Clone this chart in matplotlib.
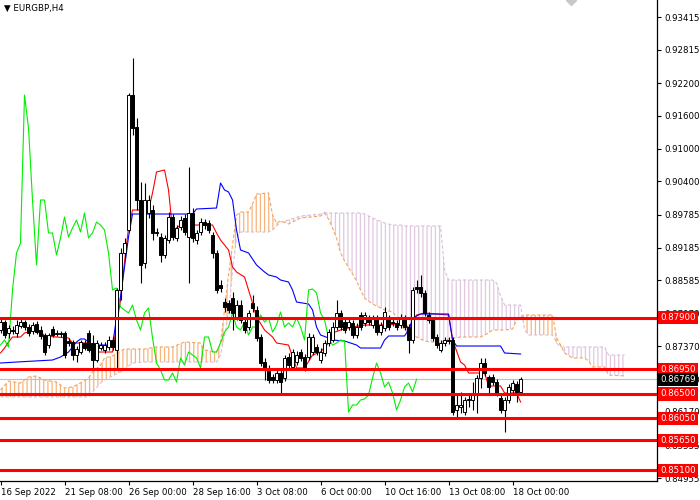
import matplotlib
matplotlib.use('Agg')
import matplotlib.pyplot as plt
import matplotlib.transforms as mtransforms
import numpy as np

plt.rcParams['font.family'] = ['DejaVu Sans']
plt.rcParams['hatch.linewidth'] = 0.9

# EURGBP H4 candles, bar 0 = 16 Sep 2022 16:00
opens = [
    0.87672, 0.87818, 0.87617, 0.87672, 0.87617, 0.87745, 0.87818, 0.87727, 0.87653, 0.87782,
    0.87672, 0.87580, 0.87397, 0.87690, 0.87598, 0.87617, 0.87617, 0.87470, 0.87451, 0.87213,
    0.87268, 0.87433, 0.87617, 0.87433, 0.87121, 0.87341, 0.87305, 0.87360, 0.87488, 0.87305,
    0.88406, 0.89085, 0.89507, 0.91984, 0.91397, 0.90057, 0.88901, 0.89819, 0.89874, 0.89470,
    0.89378, 0.89048, 0.89323, 0.89745, 0.89360, 0.89562, 0.89727, 0.89378, 0.89819, 0.89323,
    0.89470, 0.89653, 0.89635, 0.89415, 0.89085, 0.88497, 0.88185, 0.88167, 0.88259, 0.87910,
    0.88130, 0.87818, 0.87727, 0.88167, 0.88039, 0.87543, 0.87084, 0.86975, 0.86809, 0.86754,
    0.86883, 0.86791, 0.87176, 0.86993, 0.87084, 0.87268, 0.87176, 0.87176, 0.87268, 0.87360,
    0.87121, 0.87250, 0.87433, 0.87488, 0.87727, 0.87984, 0.87818, 0.87727, 0.87800, 0.87580,
    0.87947, 0.87800, 0.87892, 0.87763, 0.87892, 0.87635, 0.87708, 0.87892, 0.87818, 0.87800,
    0.87763, 0.87892, 0.87727, 0.87488, 0.88461, 0.88461, 0.88351, 0.87947, 0.87855, 0.87543,
    0.87305, 0.87433, 0.87488, 0.87488, 0.86204, 0.86259, 0.86167, 0.86387, 0.86387, 0.86479,
    0.86791, 0.87066, 0.86809, 0.86809, 0.86717, 0.86424, 0.86204, 0.86387, 0.86571, 0.86681,
    0.86534]
highs = [
    0.87892, 0.87855, 0.87763, 0.87745, 0.87855, 0.87892, 0.87855, 0.87782, 0.87818, 0.87837,
    0.87745, 0.87617, 0.87617, 0.87745, 0.87672, 0.87653, 0.87653, 0.87525, 0.87488, 0.87378,
    0.87488, 0.87488, 0.87672, 0.87580, 0.87488, 0.87451, 0.87451, 0.87562, 0.87543, 0.88442,
    0.89177, 0.89360, 0.92020, 0.92663, 0.91562, 0.90387, 0.90369, 0.90149, 0.89965, 0.89543,
    0.89452, 0.89415, 0.89837, 0.89800, 0.89598, 0.89763, 0.89800, 0.90663, 0.89910, 0.89507,
    0.89727, 0.89708, 0.89690, 0.89470, 0.89140, 0.88589, 0.88259, 0.88222, 0.88369, 0.88222,
    0.88222, 0.87892, 0.88039, 0.88314, 0.88112, 0.87598, 0.87158, 0.87029, 0.86864, 0.86938,
    0.86938, 0.87213, 0.87250, 0.87323, 0.87286, 0.87323, 0.87231, 0.87617, 0.87598, 0.87415,
    0.87341, 0.87488, 0.87690, 0.87818, 0.88222, 0.88039, 0.87892, 0.87892, 0.87855, 0.87800,
    0.88002, 0.88002, 0.87947, 0.87947, 0.87947, 0.87818, 0.88094, 0.87947, 0.87874, 0.87855,
    0.87965, 0.87947, 0.87782, 0.88461, 0.88589, 0.88681, 0.88406, 0.88002, 0.87910, 0.87598,
    0.87488, 0.87543, 0.87543, 0.87543, 0.86516, 0.86534, 0.86442, 0.86516, 0.86717, 0.86846,
    0.87158, 0.87158, 0.86846, 0.86864, 0.86772, 0.86479, 0.86442, 0.86681, 0.86754, 0.86736,
    0.86809]
lows = [
    0.87617, 0.87525, 0.87525, 0.87598, 0.87543, 0.87708, 0.87672, 0.87562, 0.87598, 0.87598,
    0.87507, 0.87213, 0.87341, 0.87543, 0.87562, 0.87543, 0.87158, 0.87378, 0.87121, 0.87084,
    0.87231, 0.87305, 0.87268, 0.86938, 0.87084, 0.87305, 0.87250, 0.87305, 0.87305, 0.86975,
    0.88222, 0.88993, 0.89470, 0.91250, 0.89874, 0.88534, 0.88810, 0.89727, 0.89323, 0.89397,
    0.88919, 0.88993, 0.89268, 0.89323, 0.89305, 0.89507, 0.89415, 0.88534, 0.89287, 0.89250,
    0.89415, 0.89525, 0.89452, 0.88993, 0.88351, 0.88369, 0.88002, 0.87984, 0.87672, 0.87855,
    0.87800, 0.87617, 0.87672, 0.88002, 0.87470, 0.87011, 0.86754, 0.86699, 0.86699, 0.86699,
    0.86516, 0.86736, 0.86975, 0.86938, 0.87029, 0.87103, 0.86920, 0.87121, 0.87213, 0.87213,
    0.87066, 0.87195, 0.87378, 0.87451, 0.87672, 0.87672, 0.87617, 0.87672, 0.87525, 0.87525,
    0.87672, 0.87745, 0.87763, 0.87708, 0.87580, 0.87580, 0.87653, 0.87672, 0.87745, 0.87672,
    0.87708, 0.87672, 0.87250, 0.87433, 0.88351, 0.88277, 0.87929, 0.87800, 0.87470, 0.87341,
    0.87268, 0.87378, 0.87415, 0.86112, 0.86075, 0.86148, 0.86112, 0.86259, 0.86204, 0.86148,
    0.86607, 0.86828, 0.86479, 0.86662, 0.86461, 0.86148, 0.85800, 0.86332, 0.86516, 0.86351,
    0.86479]
closes = [
    0.87818, 0.87580, 0.87708, 0.87653, 0.87763, 0.87818, 0.87727, 0.87617, 0.87763, 0.87635,
    0.87562, 0.87268, 0.87580, 0.87580, 0.87617, 0.87598, 0.87213, 0.87433, 0.87213, 0.87323,
    0.87451, 0.87341, 0.87305, 0.87121, 0.87433, 0.87396, 0.87396, 0.87488, 0.87360, 0.88406,
    0.89085, 0.89268, 0.91984, 0.91378, 0.90057, 0.88865, 0.90057, 0.90057, 0.89452, 0.89452,
    0.89048, 0.89360, 0.89745, 0.89378, 0.89543, 0.89690, 0.89470, 0.89819, 0.89360, 0.89452,
    0.89653, 0.89598, 0.89507, 0.89085, 0.88406, 0.88442, 0.88093, 0.88039, 0.87984, 0.88130,
    0.87855, 0.87672, 0.87984, 0.88075, 0.87525, 0.87066, 0.86938, 0.86754, 0.86754, 0.86883,
    0.86717, 0.87158, 0.87029, 0.87268, 0.87213, 0.87158, 0.86975, 0.87543, 0.87543, 0.87268,
    0.87268, 0.87433, 0.87635, 0.87727, 0.87984, 0.87727, 0.87672, 0.87818, 0.87580, 0.87727,
    0.87727, 0.87947, 0.87818, 0.87892, 0.87635, 0.87763, 0.88002, 0.87727, 0.87800, 0.87727,
    0.87892, 0.87727, 0.87488, 0.88406, 0.88424, 0.88351, 0.87984, 0.87855, 0.87525, 0.87396,
    0.87433, 0.87488, 0.87470, 0.86167, 0.86296, 0.86296, 0.86387, 0.86406, 0.86479, 0.86791,
    0.87066, 0.86883, 0.86626, 0.86717, 0.86516, 0.86204, 0.86387, 0.86626, 0.86699, 0.86534,
    0.86769]

# Ichimoku lines (bar index, price)
tenkan_bars = [0, 1, 2, 3, 5, 6, 8, 10, 11, 14,
               17, 18, 22, 23, 24, 28, 29, 30, 31, 32,
               33, 37, 38, 39, 41, 42, 43, 44, 45, 53,
               54, 55, 57, 58, 59, 61, 62, 63, 64, 66,
               68, 69, 72, 73, 74, 76, 78, 80, 82, 83,
               85, 88, 91, 97, 101, 102, 103, 104, 106, 112,
               113, 115, 116, 117, 121, 122, 125, 126, 129, 130]
tenkan = [0.87250, 0.87341, 0.87451, 0.87543, 0.87543, 0.87617, 0.87653, 0.87653, 0.87562, 0.87543,
          0.87525, 0.87433, 0.87433, 0.87341, 0.87268, 0.87268, 0.87763, 0.88222, 0.88919, 0.89543,
          0.89874, 0.89874, 0.90186, 0.90571, 0.90608, 0.90241, 0.89507, 0.89543, 0.89598, 0.89598,
          0.89452, 0.89323, 0.89140, 0.88828, 0.88736, 0.88644, 0.88406, 0.88167, 0.87910, 0.87672,
          0.87543, 0.87433, 0.87396, 0.87176, 0.86975, 0.86975, 0.87213, 0.87268, 0.87433, 0.87617,
          0.87672, 0.87727, 0.87763, 0.87763, 0.87800, 0.87708, 0.87818, 0.87947, 0.87984, 0.87947,
          0.87488, 0.87084, 0.87029, 0.86883, 0.86883, 0.86644, 0.86644, 0.86516, 0.86516, 0.86351]

kijun_bars = [0, 4, 13, 15, 17, 18, 19, 20, 21, 23,
              28, 29, 30, 31, 32, 33, 48, 49, 54, 55,
              56, 57, 58, 59, 60, 62, 64, 66, 67, 69,
              70, 72, 73, 74, 77, 78, 79, 80, 82, 83,
              86, 89, 90, 95, 96, 97, 101, 102, 103, 104,
              105, 112, 113, 114, 125, 126, 130]
kijun = [0.87066, 0.87084, 0.87121, 0.87176, 0.87268, 0.87360, 0.87451, 0.87507, 0.87507, 0.87396,
         0.87396, 0.87892, 0.88277, 0.88828, 0.89378, 0.89800, 0.89800, 0.89892, 0.89910, 0.90369,
         0.90241, 0.90204, 0.90057, 0.89507, 0.89140, 0.89085, 0.88864, 0.88736, 0.88681, 0.88644,
         0.88589, 0.88552, 0.88406, 0.88185, 0.88149, 0.88039, 0.87727, 0.87580, 0.87525, 0.87488,
         0.87470, 0.87396, 0.87341, 0.87341, 0.87488, 0.87562, 0.87562, 0.87672, 0.87855, 0.87929,
         0.87965, 0.87965, 0.87488, 0.87378, 0.87378, 0.87250, 0.87231]

cloud_bars = [0, 2, 5, 7, 9, 11, 14, 16, 18, 20,
              22, 23, 25, 26, 28, 30, 31, 33, 36, 39,
              43, 46, 50, 51, 54, 55, 56, 57, 58, 59,
              60, 62, 63, 64, 67, 68, 69, 70, 72, 75,
              80, 81, 82, 83, 84, 85, 86, 88, 89, 90,
              91, 93, 96, 98, 99, 100, 101, 102, 104, 106,
              110, 111, 112, 115, 120, 122, 123, 124, 125, 126,
              128, 129, 130, 131, 132, 138, 139, 140, 141, 143,
              146, 147, 148, 151, 152, 156]
span_a = [0.86571, 0.86736, 0.86699, 0.86809, 0.86828, 0.86754, 0.86717, 0.86607, 0.86626, 0.86699,
          0.86791, 0.86901, 0.87029, 0.87158, 0.87195, 0.87286, 0.87323, 0.87323, 0.87323, 0.87360,
          0.87360, 0.87451, 0.87433, 0.87305, 0.87268, 0.87433, 0.88039, 0.88681, 0.89231, 0.89782,
          0.89837, 0.89837, 0.89984, 0.90167, 0.90186, 0.89782, 0.89635, 0.89672, 0.89617, 0.89727,
          0.89763, 0.89818, 0.89708, 0.89543, 0.89360, 0.89085, 0.88938, 0.88699, 0.88571, 0.88406,
          0.88259, 0.88149, 0.88039, 0.88002, 0.87910, 0.87782, 0.87672, 0.87617, 0.87543, 0.87470,
          0.87433, 0.87470, 0.87507, 0.87543, 0.87543, 0.87617, 0.87672, 0.87672, 0.87672, 0.87672,
          0.87690, 0.87855, 0.87910, 0.87947, 0.87947, 0.87947, 0.87525, 0.87396, 0.87250, 0.87158,
          0.87158, 0.87103, 0.86993, 0.86993, 0.86846, 0.86828]
span_b = [0.86443, 0.86443, 0.86443, 0.86443, 0.86443, 0.86443, 0.86443, 0.86443, 0.86443, 0.86443,
          0.86443, 0.86534, 0.86699, 0.86754, 0.86828, 0.86901, 0.86956, 0.87066, 0.87084, 0.87084,
          0.87084, 0.87084, 0.87084, 0.87084, 0.87084, 0.87213, 0.87580, 0.87947, 0.88773, 0.89360,
          0.89470, 0.89470, 0.89470, 0.89470, 0.89470, 0.89507, 0.89580, 0.89653, 0.89690, 0.89763,
          0.89800, 0.89830, 0.89818, 0.89818, 0.89818, 0.89818, 0.89818, 0.89818, 0.89818, 0.89818,
          0.89800, 0.89727, 0.89635, 0.89598, 0.89598, 0.89598, 0.89580, 0.89580, 0.89580, 0.89580,
          0.89580, 0.88773, 0.88589, 0.88589, 0.88589, 0.88589, 0.88589, 0.88534, 0.88296, 0.88130,
          0.88130, 0.88130, 0.88130, 0.87672, 0.87580, 0.87580, 0.87433, 0.87360, 0.87360, 0.87360,
          0.87360, 0.87360, 0.87360, 0.87360, 0.87213, 0.87213]
chikou_shift = 26

levels = [0.87900, 0.86950, 0.86500, 0.86050, 0.85650, 0.85100]
price_ticks = [0.93415, 0.92815, 0.92200, 0.91600, 0.91000, 0.90400, 0.89785, 0.89185,
               0.88585, 0.87970, 0.87370, 0.86770, 0.86170, 0.85555, 0.84955]
time_ticks = [0, 16, 32, 48, 64, 80, 96, 112, 128]
time_labels = ['16 Sep 2022', '21 Sep 08:00', '26 Sep 00:00', '28 Sep 16:00', '3 Oct 08:00',
               '6 Oct 00:00', '10 Oct 16:00', '13 Oct 08:00', '18 Oct 00:00']

o = np.array(opens)
h = np.array(highs)
l = np.array(lows)
c = np.array(closes)
bars = np.arange(len(c))

fig = plt.figure(figsize=(7, 5), dpi=100)
ax = fig.add_axes([0, 0.038, 657 / 700, 0.962])

# cloud
cb = np.array(cloud_bars)
sa = np.array(span_a)
sb = np.array(span_b)
ax.fill_between(cb, sa, sb, where=sa >= sb, interpolate=True, facecolor='none',
                edgecolor='#f7b47c', hatch='||||', linewidth=0, zorder=1)
ax.fill_between(cb, sa, sb, where=sa < sb, interpolate=True, facecolor='none',
                edgecolor='#e0c8e0', hatch='||||', linewidth=0, zorder=1)
ax.plot(cb, sa, color='#f4a460', lw=0.8, ls=(0, (3, 2)), zorder=1.5)
ax.plot(cb, sb, color='#d8bfd8', lw=0.8, ls=(0, (3, 2)), zorder=1.5)

# current price line
ax.axhline(c[-1], color='#c0c0c0', lw=0.8, zorder=1)

# tenkan, kijun, chikou
ax.plot(tenkan_bars, tenkan, color='red', lw=0.8, zorder=2)
ax.plot(kijun_bars, kijun, color='blue', lw=0.8, zorder=2)
ax.plot(bars[chikou_shift:] - chikou_shift, c[chikou_shift:], color='#00ee00', lw=0.8, zorder=2)

# candles
up = c >= o
ax.vlines(bars, l, h, color='black', lw=0.8, zorder=3)
ax.bar(bars, np.abs(c - o), bottom=np.minimum(o, c), width=0.6,
       color=np.where(up, 'white', 'black'), edgecolor='black', linewidth=0.7, zorder=4)

# horizontal levels with price labels
trans = mtransforms.blended_transform_factory(ax.transAxes, ax.transData)
for lv in levels:
    ax.axhline(lv, color='red', lw=2.2, zorder=5)
    ax.text(1.005, lv, f'{lv:.5f}', transform=trans, ha='left', va='center', fontsize=6.2,
            color='white', clip_on=False, zorder=6,
            bbox=dict(boxstyle='square,pad=0.25', fc='red', ec='none'))
ax.text(1.005, c[-1], f'{c[-1]:.5f}', transform=trans, ha='left', va='center', fontsize=6.2,
        color='white', clip_on=False, zorder=6,
        bbox=dict(boxstyle='square,pad=0.25', fc='black', ec='none'))

ax.set_xlim(-0.125, 164.1)
ax.set_ylim(0.84901, 0.93727)

ax.yaxis.tick_right()
ax.set_yticks(price_ticks)
ax.set_yticklabels([f'{t:.5f}' for t in price_ticks])
ax.tick_params(axis='y', direction='out', length=3, width=0.8, pad=2, labelsize=6.2)
ax.set_xticks(time_ticks)
ax.set_xticklabels(time_labels, ha='left')
ax.tick_params(axis='x', direction='out', length=3, width=0.8, pad=2, labelsize=6.2)

for side in ['top', 'left']:
    ax.spines[side].set_visible(False)
for side in ['right', 'bottom']:
    ax.spines[side].set_linewidth(0.9)

fig.text(4 / 700, 1 - 8 / 500, '\u25bc EURGBP,H4', fontsize=6.2, va='center', ha='left')
ax.plot([142.5], [0.93727], marker='D', color='#c8c8c8', ms=5, clip_on=False, zorder=6)

fig.savefig('out.png', dpi=100)
